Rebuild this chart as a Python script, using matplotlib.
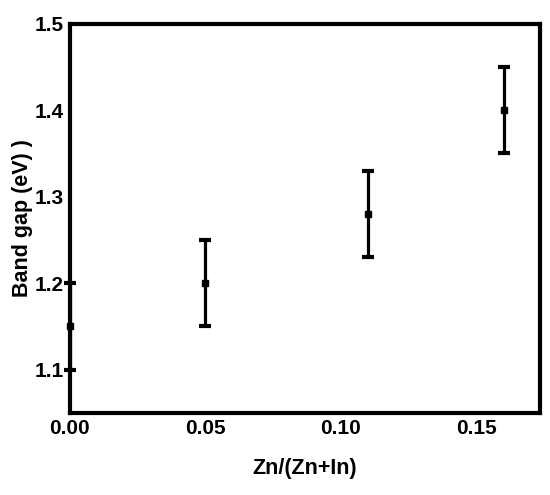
import matplotlib.pyplot as plt

plt.rcParams['font.family'] = ['Liberation Sans', 'DejaVu Sans']
plt.rcParams['font.weight'] = 'bold'

# data
zn_ratio = [0.0, 0.05, 0.11, 0.16]
band_gap = [1.15, 1.20, 1.28, 1.40]
gap_err = [0.05, 0.05, 0.05, 0.05]

fig = plt.figure(figsize=(5.5, 4.95), dpi=100)
ax = fig.add_axes([0.127, 0.166, 0.855, 0.786])

ax.errorbar(zn_ratio, band_gap, yerr=gap_err, fmt='s', color='black',
            markersize=4, elinewidth=2.3, capsize=4, capthick=3,
            clip_on=False, zorder=5)

ax.set_xlim(0, 0.1735)
ax.set_ylim(1.05, 1.5)
ax.set_xticks([0.0, 0.05, 0.10, 0.15])
ax.set_xticklabels(['0.00', '0.05', '0.10', '0.15'])
ax.set_yticks([1.1, 1.2, 1.3, 1.4, 1.5])

for s in ax.spines.values():
    s.set_linewidth(3)
ax.tick_params(direction='inout', length=3, width=1.5, labelsize=15, pad=3)

ax.set_xlabel('Zn/(Zn+In)', fontsize=15.5, fontweight='bold', labelpad=14)
ax.set_ylabel('Band gap (eV) )', fontsize=15.5, fontweight='bold', labelpad=1)

plt.savefig('out.png', dpi=100)
